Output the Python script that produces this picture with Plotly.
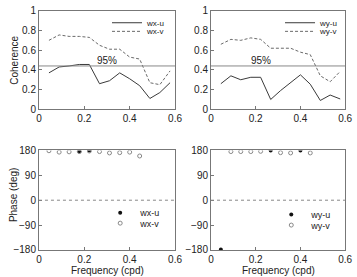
import plotly.graph_objects as go

# ---------------- data ----------------
freq = [0.044, 0.089, 0.133, 0.178, 0.222, 0.267, 0.311, 0.356, 0.400, 0.444, 0.489, 0.533, 0.578]
coh_wx_u = [0.37, 0.43, 0.44, 0.455, 0.455, 0.26, 0.29, 0.37, 0.31, 0.24, 0.11, 0.17, 0.27]
coh_wx_v = [0.70, 0.755, 0.74, 0.74, 0.73, 0.65, 0.61, 0.61, 0.53, 0.51, 0.27, 0.25, 0.39]
coh_wy_u = [0.26, 0.34, 0.30, 0.325, 0.325, 0.10, 0.19, 0.27, 0.35, 0.255, 0.09, 0.145, 0.105]
coh_wy_v = [0.66, 0.71, 0.70, 0.725, 0.71, 0.62, 0.62, 0.62, 0.58, 0.555, 0.34, 0.28, 0.385]
sig95 = 0.44
sig_label = "95%"

ph_wx_u_freq = [0.178, 0.222]
ph_wx_u = [176, 180]
ph_wx_v_freq = [0.044, 0.089, 0.133, 0.178, 0.222, 0.267, 0.311, 0.356, 0.400, 0.444]
ph_wx_v = [179, 174, 175, 176, 178, 176, 171, 172, 174, 160]
ph_wy_u_freq = [0.044, 0.267, 0.400]
ph_wy_u = [-178, 180, 180]
ph_wy_v_freq = [0.089, 0.133, 0.178, 0.222, 0.311, 0.356, 0.444]
ph_wy_v = [176, 176, 176, 177, 172, 171, 171]

coh_ticks = [0, 0.2, 0.4, 0.6, 0.8, 1]
coh_ticktext = ["0", "0.2", "0.4", "0.6", "0.8", "1"]
ph_ticks = [-180, -90, 0, 90, 180]
x_ticks = [0, 0.2, 0.4, 0.6]
x_ticktext = ["0", "0.2", "0.4", "0.6"]

# ---------------- figure ----------------
W, H = 357, 277
FONT = "Liberation Sans, Arial, sans-serif"
SOLID = "#3a3a3a"
DASH = "#6a6a6a"
AX = "#777777"

fig = go.Figure()

def px_x(p):
    return p / W

def px_y(p):
    return 1 - p / H

# legends: one per entry so that spacing can be tight
def leg(lx, ly, size):
    return dict(bgcolor="rgba(0,0,0,0)", borderwidth=0, font=dict(size=size, family=FONT, color="#222"),
                itemwidth=30, xanchor="left", yanchor="middle", x=px_x(lx - 40), y=px_y(ly))

legends = {
    "legend":  leg(147, 17.5, 8),
    "legend2": leg(147, 26.5, 8),
    "legend3": leg(325, 17.5, 8),
    "legend4": leg(325, 26.5, 8),
    "legend5": leg(140, 216, 9),
    "legend6": leg(140, 227, 9),
    "legend7": leg(316, 218, 9),
    "legend8": leg(316, 229, 9),
}

# top-left coherence
fig.add_trace(go.Scatter(x=freq, y=coh_wx_u, mode="lines", name="wx-u",
                         line=dict(color=SOLID, width=1), xaxis="x", yaxis="y", legend="legend"))
fig.add_trace(go.Scatter(x=freq, y=coh_wx_v, mode="lines", name="wx-v",
                         line=dict(color=DASH, width=1, dash="3px,2px"), xaxis="x", yaxis="y", legend="legend2"))
# top-right coherence
fig.add_trace(go.Scatter(x=freq, y=coh_wy_u, mode="lines", name="wy-u",
                         line=dict(color=SOLID, width=1), xaxis="x2", yaxis="y2", legend="legend3"))
fig.add_trace(go.Scatter(x=freq, y=coh_wy_v, mode="lines", name="wy-v",
                         line=dict(color=DASH, width=1, dash="3px,2px"), xaxis="x2", yaxis="y2", legend="legend4"))
# bottom-left phase
fig.add_trace(go.Scatter(x=ph_wx_u_freq, y=ph_wx_u, mode="markers", name="wx-u",
                         marker=dict(color="#111", size=4, symbol="circle"), xaxis="x3", yaxis="y3", legend="legend5"))
fig.add_trace(go.Scatter(x=ph_wx_v_freq, y=ph_wx_v, mode="markers", name="wx-v",
                         marker=dict(color="#888", size=4, symbol="circle-open", line=dict(width=1)),
                         xaxis="x3", yaxis="y3", legend="legend6"))
# bottom-right phase
fig.add_trace(go.Scatter(x=ph_wy_u_freq, y=ph_wy_u, mode="markers", name="wy-u",
                         marker=dict(color="#111", size=4, symbol="circle"), xaxis="x4", yaxis="y4", legend="legend7"))
fig.add_trace(go.Scatter(x=ph_wy_v_freq, y=ph_wy_v, mode="markers", name="wy-v",
                         marker=dict(color="#888", size=4, symbol="circle-open", line=dict(width=1)),
                         xaxis="x4", yaxis="y4", legend="legend8"))

ax_common = dict(showline=True, mirror=True, linecolor=AX, linewidth=1, ticks="inside", ticklen=3,
                 tickcolor=AX, showgrid=False, zeroline=False,
                 tickfont=dict(size=10, family=FONT, color="#222"))

xl = [px_x(37), px_x(177)]
xr = [px_x(214), px_x(352)]
yt = [px_y(108), px_y(5)]
yb = [px_y(255), px_y(151)]

xa = dict(ax_common, range=[0, 0.6], tickvals=x_ticks, ticktext=x_ticktext)
fig.update_layout(
    xaxis=dict(xa, domain=xl, anchor="y"),
    yaxis=dict(ax_common, domain=yt, anchor="x", range=[0, 1], tickvals=coh_ticks, ticktext=coh_ticktext),
    xaxis2=dict(xa, domain=xr, anchor="y2"),
    yaxis2=dict(ax_common, domain=yt, anchor="x2", range=[0, 1], tickvals=coh_ticks, ticktext=coh_ticktext),
    xaxis3=dict(xa, domain=xl, anchor="y3"),
    yaxis3=dict(ax_common, domain=yb, anchor="x3", range=[-180, 180], tickvals=ph_ticks),
    xaxis4=dict(xa, domain=xr, anchor="y4"),
    yaxis4=dict(ax_common, domain=yb, anchor="x4", range=[-180, 180], tickvals=ph_ticks),
)

fig.update_layout(**legends)

# 95% significance lines and zero lines
for xr_, yr_ in [("x", "y"), ("x2", "y2")]:
    fig.add_shape(type="line", xref=xr_ + " domain", yref=yr_, x0=0, x1=1, y0=sig95, y1=sig95,
                  line=dict(color="#888", width=1))
for xr_, yr_ in [("x3", "y3"), ("x4", "y4")]:
    fig.add_shape(type="line", xref=xr_ + " domain", yref=yr_, x0=0, x1=1, y0=0, y1=0,
                  line=dict(color="#888", width=1, dash="dot"))

fig.add_annotation(x=0.30, y=sig95, xref="x", yref="y", text=sig_label, showarrow=False,
                   yanchor="bottom", yshift=-2, font=dict(size=10, family=FONT, color="#222"))
fig.add_annotation(x=0.222, y=sig95, xref="x2", yref="y2", text=sig_label, showarrow=False,
                   yanchor="bottom", yshift=-2, font=dict(size=10, family=FONT, color="#222"))

# axis titles
tfont = dict(size=10, family=FONT, color="#222")
fig.add_annotation(x=px_x(11), y=(yt[0] + yt[1]) / 2, xref="paper", yref="paper", text="Coherence",
                   textangle=-90, showarrow=False, xanchor="center", yanchor="middle", font=tfont)
fig.add_annotation(x=px_x(11), y=px_y(198), xref="paper", yref="paper", text="Phase (deg)",
                   textangle=-90, showarrow=False, xanchor="center", yanchor="middle", font=tfont)
for xd in (xl, xr):
    fig.add_annotation(x=(xd[0] + xd[1]) / 2, y=px_y(269), xref="paper", yref="paper",
                       text="Frequency (cpd)", showarrow=False, xanchor="center", yanchor="top", font=tfont)

fig.update_layout(width=W, height=H, margin=dict(l=0, r=0, t=0, b=0),
                  paper_bgcolor="white", plot_bgcolor="white", showlegend=True,
                  font=dict(family=FONT, size=10, color="#222"))

fig.write_html("out.html")
